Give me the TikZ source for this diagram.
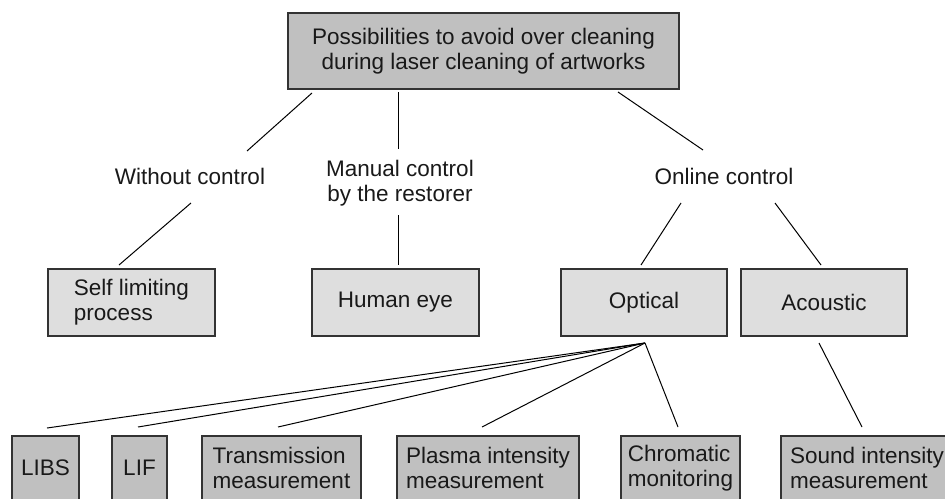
\documentclass[tikz,border=0pt]{standalone}
\usepackage{fontspec}
\setmainfont{Liberation Sans}
\definecolor{darkfill}{HTML}{C0C0C0}
\definecolor{lightfill}{HTML}{DEDEDE}
\definecolor{edge}{HTML}{333333}
\begin{document}
\begin{tikzpicture}[x=1pt,y=-1pt,
  font=\fontsize{22.5}{25}\selectfont,
  box/.style={draw=edge, line width=1.3pt, inner sep=0pt, text=black!90},
  topbox/.style={box, fill=darkfill, align=center},
  midbox/.style={box, fill=lightfill, align=left, minimum height=67pt},
  lowbox/.style={box, fill=darkfill, align=left, minimum height=64pt},
  lbl/.style={inner sep=0pt, align=center, text=black!90},
  conn/.style={draw=black, line width=1pt}]
\useasboundingbox (0,0) rectangle (945,498);
\clip (0,0) rectangle (945,498);
% top
\node[topbox, minimum width=391pt, minimum height=76pt] (top) at (483.5,51)
  {Possibilities to avoid over cleaning\\during laser cleaning of artworks};
% labels
\node[lbl] (wo) at (190,176) {Without control};
\node[lbl] (man) at (400,183) {Manual control\\by the restorer};
\node[lbl] (onl) at (724,176) {Online control};
% middle boxes
\node[midbox, minimum width=167pt] (self) at (131.5,302.5) {Self limiting\\process};
\node[midbox, minimum width=167pt] (eye) at (395.5,302.5) {Human eye};
\node[midbox, minimum width=166pt] (opt) at (644,302.5) {Optical};
\node[midbox, minimum width=166pt] (aco) at (824,302.5) {Acoustic};
% bottom boxes
\node[lowbox, minimum width=67pt] (libs) at (45.5,468) {LIBS};
\node[lowbox, minimum width=55pt] (lif) at (139.5,468) {LIF};
\node[lowbox, minimum width=159pt] (trans) at (281.5,468) {Transmission\\measurement};
\node[lowbox, minimum width=182pt] (plasma) at (488,468) {Plasma intensity\\measurement};
\node[lowbox, minimum width=119pt] (chrom) at (680.5,468) {Chromatic\\monitoring};
\node[lowbox, minimum width=172pt] (sound) at (867,468) {Sound intensity\\measurement};
% connector end points
\coordinate (t1) at (312,93);  \coordinate (w1) at (247,151);
\coordinate (t2) at (398,92);  \coordinate (m1) at (398,149);
\coordinate (t3) at (618,92);  \coordinate (o1) at (703,150);
\coordinate (w2) at (191,203); \coordinate (s1) at (119,265);
\coordinate (m2) at (398,215); \coordinate (e1) at (398,265);
\coordinate (o2) at (681,203); \coordinate (p1) at (641,265);
\coordinate (o3) at (775,203); \coordinate (a1) at (821,265);
\coordinate (fan) at (645,343);
\coordinate (b1) at (47,428);
\coordinate (b2) at (138,427);
\coordinate (b3) at (278,427);
\coordinate (b4) at (482,427);
\coordinate (b5) at (678,427);
\coordinate (ac) at (819,343); \coordinate (b6) at (862,427);
% connectors
\draw[conn] (t1) -- (w1);
\draw[conn] (t2) -- (m1);
\draw[conn] (t3) -- (o1);
\draw[conn] (w2) -- (s1);
\draw[conn] (m2) -- (e1);
\draw[conn] (o2) -- (p1);
\draw[conn] (o3) -- (a1);
\draw[conn] (fan) -- (b1);
\draw[conn] (fan) -- (b2);
\draw[conn] (fan) -- (b3);
\draw[conn] (fan) -- (b4);
\draw[conn] (fan) -- (b5);
\draw[conn] (ac) -- (b6);
\end{tikzpicture}
\end{document}
